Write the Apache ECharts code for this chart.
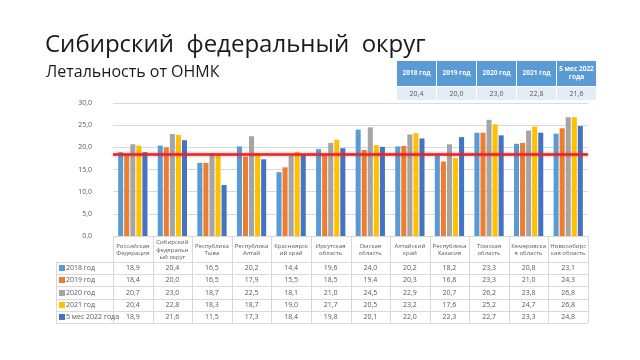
<!DOCTYPE html>
<html>
<head>
<meta charset="utf-8">
<script src="https://cdn.jsdelivr.net/npm/echarts@6/dist/echarts.min.js"></script>
<style>
html,body{margin:0;padding:0;background:#fff;}
#main{width:640px;height:360px;}
</style>
</head>
<body>
<div id="main"></div>
<script>
const title = 'Сибирский  федеральный  округ';
const subtitle = 'Летальность от ОНМК';
const categories = ['Российская\nФедерация','Сибирский\nфедеральн\nый округ','Республика\nТыва','Республика\nАлтай','Красноярск\nий край','Иркутская\nобласть','Омская\nобласть','Алтайский\nкрай','Республика\nХакасия','Томская\nобласть','Кемеровска\nя область','Новосибирс\nкая область'];
const seriesNames = ['2018 год','2019 год','2020 год','2021 год','5 мес 2022 года'];
const topTableHeaders = ['2018 год','2019 год','2020 год','2021 год','5 мес 2022\nгода'];
const v2018 = [18.9,20.4,16.5,20.2,14.4,19.6,24.0,20.2,18.2,23.3,20.8,23.1];
const v2019 = [18.4,20.0,16.5,17.9,15.5,18.5,19.4,20.3,16.8,23.3,21.0,24.3];
const v2020 = [20.7,23.0,18.7,22.5,18.1,21.0,24.5,22.9,20.7,26.2,23.8,26.8];
const v2021 = [20.4,22.8,18.3,18.7,19.0,21.7,20.5,23.2,17.6,25.2,24.7,26.8];
const v2022 = [18.9,21.6,11.5,17.3,18.4,19.8,20.1,22.0,22.3,22.7,23.3,24.8];
const sfoValues = [20.4,20.0,23.0,22.8,21.6];
const referenceLine = 18.5;
const yMin = 0, yMax = 30, yStep = 5;

const colors = ['#5B9BD5','#ED7D31','#A5A5A5','#FFC000','#4472C4'];
const allValues = [v2018,v2019,v2020,v2021,v2022];
const fmt = v => v.toFixed(1).replace('.', ',');
const FONT = 'Open Sans';
const txtColor = '#595959';
const lineColor = '#D9D9D9';

const chart = echarts.init(document.getElementById('main'));
const series = seriesNames.map((n,i)=>({
  name:n, type:'bar', data:allValues[i],
  itemStyle:{color:colors[i]},
  barGap:'20%', barCategoryGap:'26%',
  animation:false,
  markLine: i===0 ? {
    silent:true, symbol:'none', animation:false,
    label:{show:false},
    lineStyle:{color:'#E3262B', width:2.5, type:'solid', shadowColor:'rgba(230,40,40,0.55)', shadowBlur:3},
    data:[{yAxis:referenceLine}]
  } : undefined
}));

chart.setOption({
  animation:false,
  textStyle:{fontFamily:FONT},
  grid:{left:113, right:52, top:103, bottom:124},
  xAxis:{type:'category', data:categories,
    axisLine:{show:false}, axisTick:{show:false},
    axisLabel:{interval:0, fontSize:6, lineHeight:7.5, color:txtColor, margin:14, verticalAlign:'middle', fontFamily:FONT}},
  yAxis:{type:'value', min:yMin, max:yMax, interval:yStep,
    axisLine:{show:false}, axisTick:{show:false},
    splitLine:{lineStyle:{color:lineColor, width:1}},
    axisLabel:{fontSize:7, color:txtColor, margin:21, formatter:v=>fmt(v), fontFamily:FONT}},
  series:series,
  title:[
    {text:title, left:40, top:28, textStyle:{fontSize:24, fontWeight:'normal', color:'#1a1a1a', fontFamily:FONT}},
    {text:subtitle, left:41, top:59, textStyle:{fontSize:16, fontWeight:'normal', color:'#1a1a1a', fontFamily:FONT}}
  ]
});

// Build data table below the chart, aligned with category axis
const cx0 = chart.convertToPixel({xAxisIndex:0}, 0);
const cx1 = chart.convertToPixel({xAxisIndex:0}, 1);
const cw = cx1 - cx0;
const n = categories.length;
const gLeft = cx0 - cw/2;
const gRight = gLeft + cw*n;
const y0 = chart.convertToPixel({yAxisIndex:0}, 0);
const headTop = y0;
const headBottom = y0 + 26;
const rowH = 12.2;
const tLeft = 56;
const g = [];
const line = (x1,y1,x2,y2)=>g.push({type:'line', shape:{x1,y1,x2,y2}, style:{stroke:lineColor, lineWidth:1}, silent:true});
for (let k=0;k<=n;k++){
  const x = Math.round(gLeft + cw*k)+0.5;
  line(x, headTop, x, headBottom + rowH*5);
}
line(tLeft+0.5, headBottom, tLeft+0.5, headBottom+rowH*5);
for (let r=0;r<=5;r++){
  const y = Math.round(headBottom + rowH*r)+0.5;
  line(tLeft, y, gRight, y);
}
for (let r=0;r<5;r++){
  const yc = headBottom + rowH*r + rowH/2;
  g.push({type:'rect', shape:{x:tLeft+3, y:Math.round(yc-3), width:6, height:6}, style:{fill:colors[r]}, silent:true});
  g.push({type:'text', x:tLeft+10, y:yc, style:{text:seriesNames[r], fontSize:7, fill:txtColor, fontFamily:FONT, verticalAlign:'middle', align:'left'}, silent:true});
  for (let k=0;k<n;k++){
    g.push({type:'text', x:gLeft + cw*k + cw/2, y:yc, style:{text:fmt(allValues[r][k]), fontSize:7, fill:txtColor, fontFamily:FONT, verticalAlign:'middle', align:'center'}, silent:true});
  }
}
// top-right summary table
const ttLeft = 397, ttTop = 61, ttW = 40, ttHeadH = 25, ttRowH = 13;
for (let k=0;k<5;k++){
  const x = ttLeft + ttW*k;
  g.push({type:'rect', shape:{x:x, y:ttTop, width:ttW-1, height:ttHeadH}, style:{fill:'#5B9BD5'}, silent:true});
  g.push({type:'rect', shape:{x:x, y:ttTop+ttHeadH+1, width:ttW-1, height:ttRowH}, style:{fill:'#E4ECF6'}, silent:true});
  g.push({type:'text', x:x+ttW/2-0.5, y:ttTop+ttHeadH/2, style:{text:topTableHeaders[k], fontSize:6.5, lineHeight:8, fontWeight:'bold', fill:'#fff', fontFamily:FONT, verticalAlign:'middle', align:'center'}, silent:true});
  g.push({type:'text', x:x+ttW/2-0.5, y:ttTop+ttHeadH+1+ttRowH/2, style:{text:fmt(sfoValues[k]), fontSize:7, fill:txtColor, fontFamily:FONT, verticalAlign:'middle', align:'center'}, silent:true});
}
chart.setOption({graphic:g});
</script>
</body>
</html>
